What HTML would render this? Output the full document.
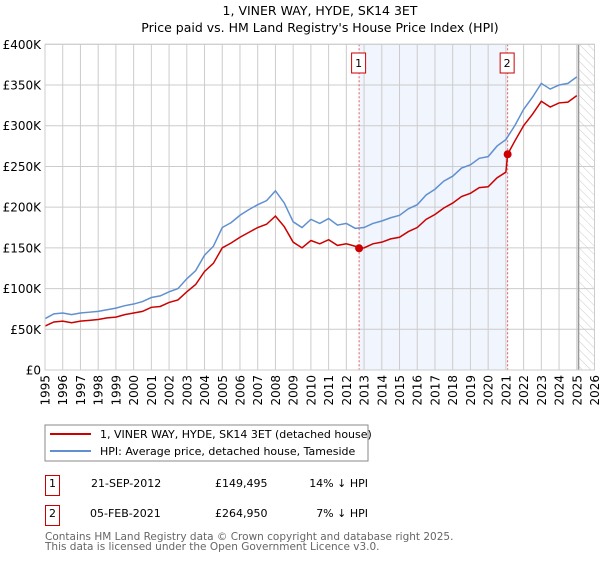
<!DOCTYPE html>
<html><head><meta charset="utf-8"><style>
body{margin:0;background:#fff;font-family:"DejaVu Sans","Liberation Sans",sans-serif;}
svg text{font-family:"DejaVu Sans","Liberation Sans",sans-serif;}
</style></head><body>
<svg id="c" width="600" height="560" viewBox="0 0 600 560" xmlns="http://www.w3.org/2000/svg">
<defs><pattern id="hatch" width="6" height="6" patternUnits="userSpaceOnUse" patternTransform="rotate(-45)"><line x1="0" y1="0" x2="0" y2="6" stroke="#ccc" stroke-width="1"/></pattern></defs>
<text x="320" y="15" text-anchor="middle" font-size="12.5">1, VINER WAY, HYDE, SK14 3ET</text>
<text x="320" y="32" text-anchor="middle" font-size="12.5">Price paid vs. HM Land Registry's House Price Index (HPI)</text>
<g id="plot"></g>
<rect x="45" y="425" width="323" height="36" fill="#fff" stroke="#888"/>
<line x1="50" y1="434" x2="91" y2="434" stroke="#cc0000" stroke-width="2"/>
<text x="100" y="438" font-size="11">1, VINER WAY, HYDE, SK14 3ET (detached house)</text>
<line x1="50" y1="451" x2="91" y2="451" stroke="#6090d0" stroke-width="2"/>
<text x="100" y="455" font-size="11">HPI: Average price, detached house, Tameside</text>
<g font-size="11">
<rect x="45.5" y="475.5" width="14" height="20" fill="none" stroke="#cc0000"/>
<text x="52.5" y="487" text-anchor="middle">1</text>
<text x="91" y="487">21-SEP-2012</text>
<text x="215" y="487">£149,495</text>
<text x="368" y="487" text-anchor="end">14% ↓ HPI</text>
</g>
<g font-size="11">
<rect x="45.5" y="505.5" width="14" height="20" fill="none" stroke="#cc0000"/>
<text x="52.5" y="517" text-anchor="middle">2</text>
<text x="90" y="517">05-FEB-2021</text>
<text x="215" y="517">£264,950</text>
<text x="368" y="517" text-anchor="end">7% ↓ HPI</text>
</g>
<text x="45" y="540" font-size="10.5" fill="#666">Contains HM Land Registry data © Crown copyright and database right 2025.</text>
<text x="45" y="550" font-size="10.5" fill="#666">This data is licensed under the Open Government Licence v3.0.</text>
</svg>
<script>
const years=[1995,1995.5,1996,1996.5,1997,1997.5,1998,1998.5,1999,1999.5,2000,2000.5,2001,2001.5,2002,2002.5,2003,2003.5,2004,2004.5,2005,2005.5,2006,2006.5,2007,2007.5,2008,2008.5,2009,2009.5,2010,2010.5,2011,2011.5,2012,2012.5,2013,2013.5,2014,2014.5,2015,2015.5,2016,2016.5,2017,2017.5,2018,2018.5,2019,2019.5,2020,2020.5,2021,2021.5,2022,2022.5,2023,2023.5,2024,2024.5,2025];
const hpiValues=[63,69,70,68,70,71,72,74,76,79,81,84,89,91,96,100,112,122,141,152,175,181,190,197,203,208,220,205,182,175,185,180,186,178,180,174,175,180,183,187,190,198,203,215,222,232,238,248,252,260,262,275,283,300,320,335,352,345,350,352,360];
const priceYears=[1995,1995.5,1996,1996.5,1997,1997.5,1998,1998.5,1999,1999.5,2000,2000.5,2001,2001.5,2002,2002.5,2003,2003.5,2004,2004.5,2005,2005.5,2006,2006.5,2007,2007.5,2008,2008.5,2009,2009.5,2010,2010.5,2011,2011.5,2012,2012.5,2012.72,2013,2013.5,2014,2014.5,2015,2015.5,2016,2016.5,2017,2017.5,2018,2018.5,2019,2019.5,2020,2020.5,2021,2021.1,2021.5,2022,2022.5,2023,2023.5,2024,2024.5,2025];
const priceValues=[54,59,60,58,60,61,62,64,65,68,70,72,77,78,83,86,96,105,121,131,150,156,163,169,175,179,189,176,157,150,159,155,160,153,155,152,149.5,150,155,157,161,163,170,175,185,191,199,205,213,217,224,225,236,243,265,281,300,314,330,323,328,329,337];
const saleYears=[2012.72,2021.1];
const saleValues=[149.495,264.95];
const saleLabels=["1","2"];
const yTicks=[0,50,100,150,200,250,300,350,400];
const yTickLabels=["£0","£50K","£100K","£150K","£200K","£250K","£300K","£350K","£400K"];
const xTicks=[1995,1996,1997,1998,1999,2000,2001,2002,2003,2004,2005,2006,2007,2008,2009,2010,2011,2012,2013,2014,2015,2016,2017,2018,2019,2020,2021,2022,2023,2024,2025,2026];
const dataEnd=2025.1;

const X0=45,X1=594.5,Y0=370,Y1=44.3,Xmin=1995,Xmax=2026,Ymax=400;
const sx=v=>X0+(v-Xmin)/(Xmax-Xmin)*(X1-X0);
const sy=v=>Y0-v/Ymax*(Y0-Y1);
const NS="http://www.w3.org/2000/svg";
const g=document.getElementById('plot');
function mk(t,a){const e=document.createElementNS(NS,t);for(const k in a)e.setAttribute(k,a[k]);g.appendChild(e);return e;}

let e=mk('rect',{x:sx(saleYears[0]),y:Y1,width:sx(saleYears[1])-sx(saleYears[0]),height:Y0-Y1,fill:'#eef3fd',opacity:0.8});


e=mk('rect',{x:sx(dataEnd),y:Y1,width:X1-sx(dataEnd),height:Y0-Y1,fill:'url(#hatch)'});


yTicks.forEach((t,i)=>{
 let l=mk('line',{x1:X0,x2:X1,y1:sy(t),y2:sy(t),stroke:'#ccc','stroke-width':1});
 
 
 let tx=mk('text',{x:X0-4,y:sy(t)+4.5,'text-anchor':'end','font-size':12});
 tx.textContent=yTickLabels[i];
 
 
});
xTicks.forEach(t=>{
 let l=mk('line',{x1:sx(t),x2:sx(t),y1:Y1,y2:Y0,stroke:'#ccc','stroke-width':1});
 
 
 let tx=mk('text',{x:0,y:0,'font-size':12,'text-anchor':'end',transform:`translate(${sx(t)+4.5},${Y0+5}) rotate(-90)`});
 tx.textContent=t;
 
 
});
e=mk('line',{x1:sx(dataEnd),x2:sx(dataEnd),y1:Y1,y2:Y0,stroke:'#999','stroke-width':1.5});


saleYears.forEach((s,i)=>{
 let l=mk('line',{x1:sx(s),x2:sx(s),y1:Y1,y2:Y0,stroke:'#e06060','stroke-width':1,'stroke-dasharray':'2,2'});
 
 
 let b=mk('rect',{x:sx(s)-7.5,y:53,width:14,height:20,fill:'#fff',stroke:'#cc0000'});
 
 
 let t=mk('text',{x:sx(s)-0.5,y:67,'text-anchor':'middle','font-size':11});
 t.textContent=saleLabels[i];
 
 
});
e=mk('polyline',{points:years.map((y,i)=>sx(y)+','+sy(hpiValues[i])).join(' '),fill:'none',stroke:'#6090d0','stroke-width':1.5});


e=mk('polyline',{points:priceYears.map((y,i)=>sx(y)+','+sy(priceValues[i])).join(' '),fill:'none',stroke:'#cc0000','stroke-width':1.5});


saleYears.forEach((s,i)=>{
 let c=mk('circle',{cx:sx(s),cy:sy(saleValues[i]),r:4,fill:'#cc0000'});
 
 
});
e=mk('rect',{x:X0,y:Y1,width:X1-X0,height:Y0-Y1,fill:'none',stroke:'#ccc'});


</script>
</body></html>
